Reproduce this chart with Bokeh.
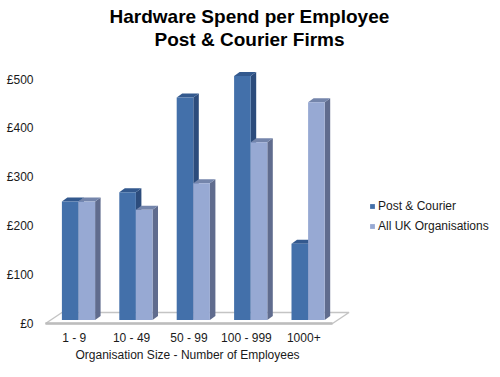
from bokeh.plotting import figure, ColumnDataSource
from bokeh.models import Range1d, FixedTicker, Legend, LegendItem, Title
from bokeh.embed import file_html
from bokeh.resources import INLINE

categories = ["1 - 9", "10 - 49", "50 - 99", "100 - 999", "1000+"]
post_courier = [243, 262, 456, 500, 156]
all_uk = [243, 226, 280, 364, 446]
y_ticks = [0, 100, 200, 300, 400, 500]
y_labels = ["£0", "£100", "£200", "£300", "£400", "£500"]
x_title = "Organisation Size - Number of Employees"

FONT = "Liberation Sans"
TXT = "#1a1a1a"
# scale: px per unit
PX_X = 57.4
PX_Y = 0.488
x0_px, y0_px = 73.7, 323
fl, fr, ft, fb = 30, 0, 49, 47
W, H = 500, 377
x_rng = Range1d((fl - x0_px) / PX_X, (W - fr - x0_px) / PX_X)
y_rng = Range1d((y0_px - (H - fb)) / PX_Y, (y0_px - ft) / PX_Y)

p = figure(width=W, height=H, x_range=x_rng, y_range=y_rng, output_backend="svg",
           toolbar_location=None, min_border_left=fl, min_border_right=fr,
           min_border_top=ft, min_border_bottom=fb, outline_line_color=None,
           background_fill_color="white", border_fill_color="white")
p.grid.visible = False

t2 = Title(text="Post & Courier Firms", align="left", offset=124, text_font=FONT,
           text_font_size="19px", text_font_style="bold", text_color="black", standoff=0)
t1 = Title(text="Hardware Spend per Employee", align="left", offset=79, text_font=FONT,
           text_font_size="19px", text_font_style="bold", text_color="black", standoff=0)
p.add_layout(t2, "above")
p.add_layout(t1, "above")

ax = p.yaxis[0]
ax.ticker = FixedTicker(ticks=y_ticks)
ax.major_label_overrides = dict(zip(y_ticks, y_labels))
ax.axis_line_color = None
ax.major_tick_line_color = None
ax.minor_tick_line_color = None
ax.major_label_standoff = -9
ax.major_label_text_font = FONT
ax.major_label_text_font_size = "12px"
ax.major_label_text_color = TXT

bx = p.xaxis[0]
bx.ticker = FixedTicker(ticks=list(range(len(categories))))
bx.major_label_overrides = dict(enumerate(categories))
bx.axis_line_color = None
bx.major_tick_line_color = None
bx.minor_tick_line_color = None
bx.major_label_standoff = -6
bx.major_label_text_font = FONT
bx.major_label_text_font_size = "12px"
bx.major_label_text_color = TXT

p.add_layout(Title(text=x_title, align="left", offset=45, text_font=FONT, text_font_size="12px",
                   text_font_style="normal", text_color=TXT, standoff=-4), "below")

# projection offsets in data units
dx = 5.5 / PX_X      # depth shift of a bar, x
dy = 4.0 / PX_Y      # depth shift of a bar, y
base_x = 4.3 / PX_X  # where the pair of bars meets, relative to category centre
base_y = 3.5 / PX_Y  # bar foot above the floor's front edge
bw = 16.6 / PX_X     # bar width

# floor
n = len(categories)
fdx, fdy = 16.5 / PX_X, 11 / PX_Y
xl, xr = -0.5, n - 0.5
p.patch([xl, xr, xr + fdx, xl + fdx], [0, 0, fdy, fdy], fill_color="white",
        line_color="#c4c4c4", line_width=1.5)
p.line([xl, xr], [0, 0], line_color="#bdbdbd", line_width=2.5)


def bar_parts(values, left_offset):
    front, top, side = dict(xs=[], ys=[]), dict(xs=[], ys=[]), dict(xs=[], ys=[])
    for i, v in enumerate(values):
        l = i + base_x + left_offset
        r = l + bw
        b = base_y
        t = base_y + v
        front["xs"].append([l, r, r, l]); front["ys"].append([b, b, t, t])
        top["xs"].append([l, r, r + dx, l + dx]); top["ys"].append([t, t, t + dy, t + dy])
        side["xs"].append([r, r + dx, r + dx, r]); side["ys"].append([b, b + dy, t + dy, t])
    return front, top, side


rends = {}
for key, vals, off, fc, tc, sc in [
    ("dark", post_courier, -bw, "#4370aa", "#33598e", "#2c4c7c"),
    ("light", all_uk, 0, "#97a9d3", "#7485ab", "#606c8e"),
]:
    f, t, s = bar_parts(vals, off)
    p.patches("xs", "ys", source=ColumnDataSource(s), fill_color=sc, line_color=None)
    p.patches("xs", "ys", source=ColumnDataSource(t), fill_color=tc, line_color=None)
    rends[key] = p.patches("xs", "ys", source=ColumnDataSource(f), fill_color=fc, line_color=None)

legend = Legend(items=[LegendItem(label="Post & Courier", renderers=[rends["dark"]]),
                       LegendItem(label="All UK Organisations", renderers=[rends["light"]])],
                location=(339, 97), background_fill_alpha=0, border_line_color=None,
                glyph_width=6, glyph_height=6, spacing=6, padding=0, margin=0,
                label_text_font=FONT, label_text_font_size="12px", label_text_color=TXT,
                label_standoff=3)
p.add_layout(legend, "center")

open("out.html", "w").write(file_html(p, INLINE))
